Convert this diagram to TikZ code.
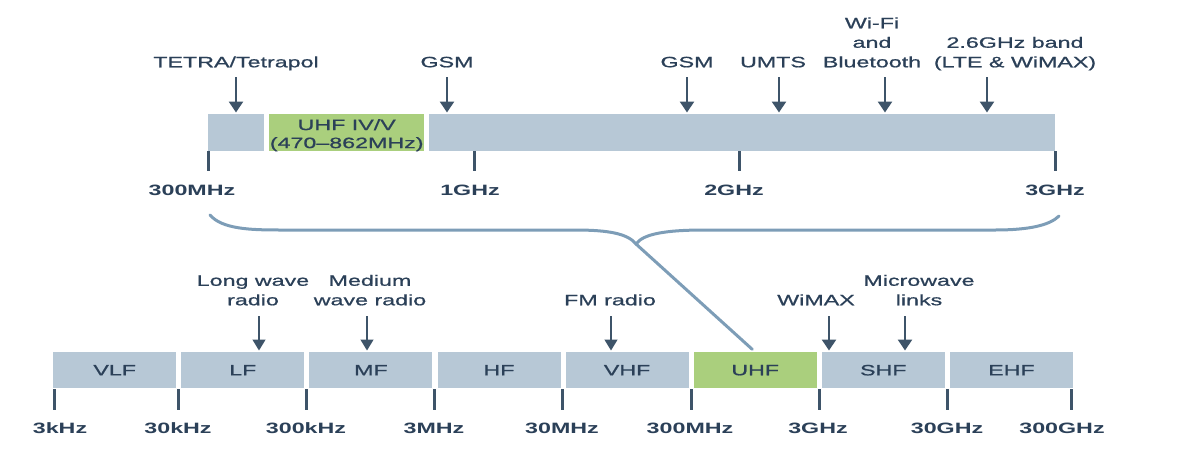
\documentclass[tikz,border=0pt]{standalone}
\usepackage{fontspec}
\setmainfont[FakeStretch=1.55, UprightFeatures={FakeBold=0.9}]{Liberation Sans}
\usetikzlibrary{arrows.meta}
\definecolor{bandgrey}{HTML}{B7C8D6}
\definecolor{bandgreen}{HTML}{AACF7D}
\definecolor{ink}{HTML}{2B4058}
\definecolor{arrowc}{HTML}{3E5469}
\definecolor{bracec}{HTML}{7D9DB7}
\tikzset{
  txt/.style={font=\fontsize{15}{19.5}\selectfont, text=ink},
  band/.style={txt, fill=bandgrey, inner sep=0pt, anchor=north west, align=center},
  greenband/.style={band, fill=bandgreen},
  freq/.style={txt, font=\fontsize{15}{19.5}\selectfont\bfseries, anchor=base, inner sep=0pt},
  lab/.style={txt, anchor=south, inner sep=0pt, align=center, execute at end node=\strut},
  tickmark/.style={draw=arrowc, line width=3pt},
  arrbold/.style={draw=arrowc, line width=2.6pt, -{Triangle[width=14pt,length=11pt]}, shorten >=1.5pt},
  arrthin/.style={draw=arrowc, line width=1.4pt, -{Triangle[width=13pt,length=11pt]}, shorten >=1.5pt},
  bracket/.style={draw=bracec, line width=3pt, line cap=round, line join=round}
}
\begin{document}
\begin{tikzpicture}[x=1pt,y=-1pt]
\useasboundingbox (0,0) rectangle (1183,450);

% ---------- upper bar: 300 MHz to 3 GHz ----------
\node[band, minimum width=56pt, minimum height=37pt] (t1) at (208,114) {};
\node[greenband, minimum width=155pt, minimum height=37pt] (t2) at (269,114) {};
\node[txt, align=center, inner sep=0pt, font=\fontsize{15}{18}\selectfont] (t2text)
  at ([yshift=-2.5pt]t2.center) {UHF IV/V\\(470–862MHz)};
\node[band, minimum width=626pt, minimum height=37pt] (t3) at (429,114) {};

\draw[tickmark] (208,151) -- ++(0,20);
\draw[tickmark] (474,151) -- ++(0,20);
\draw[tickmark] (739,151) -- ++(0,20);
\draw[tickmark] (1055,151) -- ++(0,20);

\node[freq] (f300m) at (192,195) {300MHz};
\node[freq] (f1g) at (470,195) {1GHz};
\node[freq] (f2g) at (734,195) {2GHz};
\node[freq] (f3g) at (1055,195) {3GHz};

% services in the upper bar
\node[lab] (tetra) at (236,73.3) {TETRA/Tetrapol};
\node[lab] (gsma) at (447,73.3) {GSM};
\node[lab] (gsmb) at (687,73.3) {GSM};
\node[lab] (umts) at (773,73.3) {UMTS};
\node[lab] (wifi) at (872,73.3) {Wi-Fi\\and\\Bluetooth};
\node[lab] (lte) at (1015,73.3) {2.6GHz band\\(LTE \& WiMAX)};

\coordinate (ta1) at (236,77);
\coordinate (ta2) at (447,77);
\coordinate (ta3) at (687,77);
\coordinate (ta4) at (779,77);
\coordinate (ta5) at (885,77);
\coordinate (ta6) at (987,77);
\draw[arrbold] (ta1) -- (ta1 |- t1.north);
\draw[arrbold] (ta2) -- (ta2 |- t3.north);
\draw[arrbold] (ta3) -- (ta3 |- t3.north);
\draw[arrbold] (ta4) -- (ta4 |- t3.north);
\draw[arrbold] (ta5) -- (ta5 |- t3.north);
\draw[arrbold] (ta6) -- (ta6 |- t3.north);

% ---------- lower bar: 3 kHz to 300 GHz ----------
\node[band, minimum width=123pt, minimum height=36pt] (b1) at (53,352) {VLF};
\node[band, minimum width=123pt, minimum height=36pt] (b2) at (181.1,352) {LF};
\node[band, minimum width=123pt, minimum height=36pt] (b3) at (309.2,352) {MF};
\node[band, minimum width=123pt, minimum height=36pt] (b4) at (437.3,352) {HF};
\node[band, minimum width=123pt, minimum height=36pt] (b5) at (565.4,352) {VHF};
\node[greenband, minimum width=123pt, minimum height=36pt] (uhf) at (693.5,352) {UHF};
\node[band, minimum width=123pt, minimum height=36pt] (b7) at (821.6,352) {SHF};
\node[band, minimum width=123pt, minimum height=36pt] (b8) at (949.7,352) {EHF};

\foreach \x in {54,178.6,306.7,434.8,562.9,691,819.1,947.2,1071}
  \draw[tickmark] (\x,389) -- ++(0,21);

\node[freq] (l1) at (60,433.5) {3kHz};
\node[freq] (l2) at (178,433.5) {30kHz};
\node[freq] (l3) at (306,433.5) {300kHz};
\node[freq] (l4) at (434,433.5) {3MHz};
\node[freq] (l5) at (562,433.5) {30MHz};
\node[freq] (l6) at (690,433.5) {300MHz};
\node[freq] (l7) at (818,433.5) {3GHz};
\node[freq] (l8) at (947,433.5) {30GHz};
\node[freq] (l9) at (1062,433.5) {300GHz};

% services in the lower bar
\node[lab] (lw) at (253,311.3) {Long wave\\radio};
\node[lab] (mw) at (370,311.3) {Medium\\wave radio};
\node[lab] (fm) at (610,311.3) {FM radio};
\node[lab] (wimax) at (816,311.3) {WiMAX};
\node[lab] (mwl) at (919,311.3) {Microwave\\links};

\coordinate (ba1) at (259,316);
\coordinate (ba2) at (367,316);
\coordinate (ba3) at (611,316);
\coordinate (ba4) at (829,316);
\coordinate (ba5) at (905,316);
\draw[arrthin] (ba1) -- (ba1 |- b2.north);
\draw[arrthin] (ba2) -- (ba2 |- b3.north);
\draw[arrthin] (ba3) -- (ba3 |- b5.north);
\draw[arrbold] (ba4) -- (ba4 |- b7.north);
\draw[arrbold] (ba5) -- (ba5 |- b7.north);

% ---------- bracket linking the UHF band to the upper bar ----------
\coordinate (bl) at (210,215);
\coordinate (br) at (1059,216);
\coordinate (cusp) at (636,244);
\draw[bracket] (bl) .. controls (222,229) and (250,230) .. (280,230)
  -- (575,230) .. controls (610,230) and (628,234) .. (cusp)
  .. controls (643,234) and (665,230) .. (705,230)
  -- (995,230) .. controls (1030,230) and (1050,225) .. (br);
\draw[bracket, shorten >=4pt] (cusp) -- (uhf.north);
\end{tikzpicture}
\end{document}
